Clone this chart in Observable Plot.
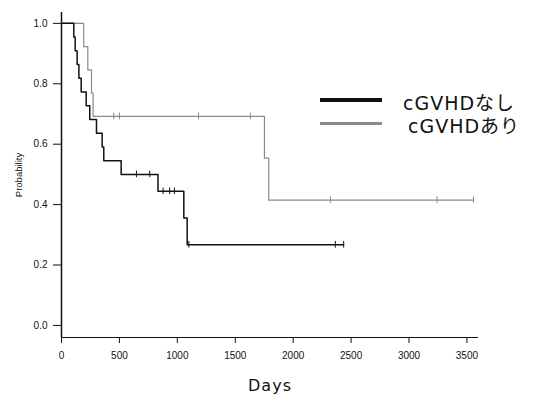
<!DOCTYPE html>
<html>
<head>
<meta charset="utf-8">
<script src="https://cdn.jsdelivr.net/npm/d3@7"></script>
<script src="https://cdn.jsdelivr.net/npm/@observablehq/plot@0.6"></script>
<style>
  html, body { margin: 0; padding: 0; background: #fff; }
  #wrap { position: relative; width: 535px; height: 403px; }
  #wrap svg { font-family: "Liberation Sans", Arial, sans-serif; }
  g[aria-label="x-axis label"] text { font-family: "DejaVu Sans", sans-serif; font-size: 16px; letter-spacing: 1px; }
  g[aria-label="y-axis label"] text { font-size: 9.5px; }
  .leg { position: absolute; font-family: "DejaVu Sans", "Noto Sans CJK JP", sans-serif; font-size: 19px; letter-spacing: 1px; color: #111; line-height: 20px; height: 20px; white-space: nowrap; }
  .legline { position: absolute; height: 0; }
</style>
</head>
<body>
<div id="wrap"></div>
<script>
// Kaplan–Meier curves
const seriesNames = ["cGVHDなし", "cGVHDあり"];
// cGVHDなし (black)
const noneTimes = [0, 106, 118, 135, 150, 170, 213, 244, 302, 351, 365, 515, 833, 1056, 1085];
const noneSurv  = [1.0, 0.955, 0.909, 0.864, 0.818, 0.773, 0.727, 0.682, 0.636, 0.591, 0.545, 0.5, 0.444, 0.356, 0.267];
const noneCensor = [647, 762, 877, 934, 975, 1099, 2364, 2436];
// cGVHDあり (grey)
const ariTimes = [0, 192, 227, 259, 273, 1752, 1789];
const ariSurv  = [1.0, 0.923, 0.846, 0.769, 0.692, 0.554, 0.415];
const ariCensor = [451, 500, 1183, 1631, 2321, 3242, 3557];

const xTicks = [0, 500, 1000, 1500, 2000, 2500, 3000, 3500];
const yTicks = [0.0, 0.2, 0.4, 0.6, 0.8, 1.0];
const xDomain = [0, 3600];
const yDomain = [-0.04, 1.036];

function stepSeries(times, surv, censor) {
  const pts = times.map((t, i) => ({t, s: surv[i]}));
  const end = Math.max(d3.max(times), d3.max(censor));
  pts.push({t: end, s: surv[surv.length - 1]});
  return pts;
}
function survAt(times, surv, t) {
  let s = surv[0];
  for (let i = 0; i < times.length; i++) if (times[i] <= t) s = surv[i];
  return s;
}
const noneLine = stepSeries(noneTimes, noneSurv, noneCensor);
const ariLine = stepSeries(ariTimes, ariSurv, ariCensor);
const noneMarks = noneCensor.map(t => ({t, s: survAt(noneTimes, noneSurv, t)}));
const ariMarks = ariCensor.map(t => ({t, s: survAt(ariTimes, ariSurv, t)}));

const blackC = "#111";
const greyC = "#8a8a8a";
const cH = 0.011;

const chart = Plot.plot({
  width: 535,
  height: 403,
  marginLeft: 61,
  marginRight: 57,
  marginTop: 12,
  marginBottom: 66,
  style: {background: "#fff", color: "#111", fontSize: "10px"},
  x: {domain: xDomain},
  y: {domain: yDomain},
  marks: [
    Plot.axisY({ticks: yTicks, tickFormat: d3.format(".1f"), tickSize: 8, tickPadding: 6, label: "Probability", labelAnchor: "center", labelArrow: false, labelOffset: 46, fontSize: 10}),
    Plot.axisX({ticks: xTicks, tickFormat: d => String(d), tickSize: 6, tickPadding: 8, label: "Days", labelAnchor: "center", labelArrow: false, labelOffset: 53, fontSize: 10}),
    Plot.ruleX([xDomain[0]], {stroke: blackC, strokeWidth: 1.5}),
    Plot.ruleY([yDomain[0]], {stroke: blackC, strokeWidth: 1.2}),
    Plot.line(ariLine, {x: "t", y: "s", curve: "step-after", stroke: greyC, strokeWidth: 1.2}),
    Plot.ruleX(ariMarks, {x: "t", y1: d => d.s - cH, y2: d => d.s + cH, stroke: greyC, strokeWidth: 1}),
    Plot.line(noneLine, {x: "t", y: "s", curve: "step-after", stroke: blackC, strokeWidth: 1.5}),
    Plot.ruleX(noneMarks, {x: "t", y1: d => d.s - cH, y2: d => d.s + cH, stroke: blackC, strokeWidth: 1})
  ]
});
const wrap = document.getElementById("wrap");
wrap.appendChild(chart);

// legend overlay
const legend = [
  {name: seriesNames[0], color: blackC, w: 4, top: 100, textLeft: 403, textTop: 93},
  {name: seriesNames[1], color: greyC, w: 3, top: 123, textLeft: 408, textTop: 116}
];
legend.forEach(l => {
  const ln = document.createElement("div");
  ln.className = "legline";
  ln.style.left = "320px";
  ln.style.width = "62px";
  ln.style.top = (l.top - l.w / 2) + "px";
  ln.style.borderTop = l.w + "px solid " + l.color;
  wrap.appendChild(ln);
  const tx = document.createElement("div");
  tx.className = "leg";
  tx.textContent = l.name;
  tx.style.left = l.textLeft + "px";
  tx.style.top = l.textTop + "px";
  wrap.appendChild(tx);
});
</script>
</body>
</html>
